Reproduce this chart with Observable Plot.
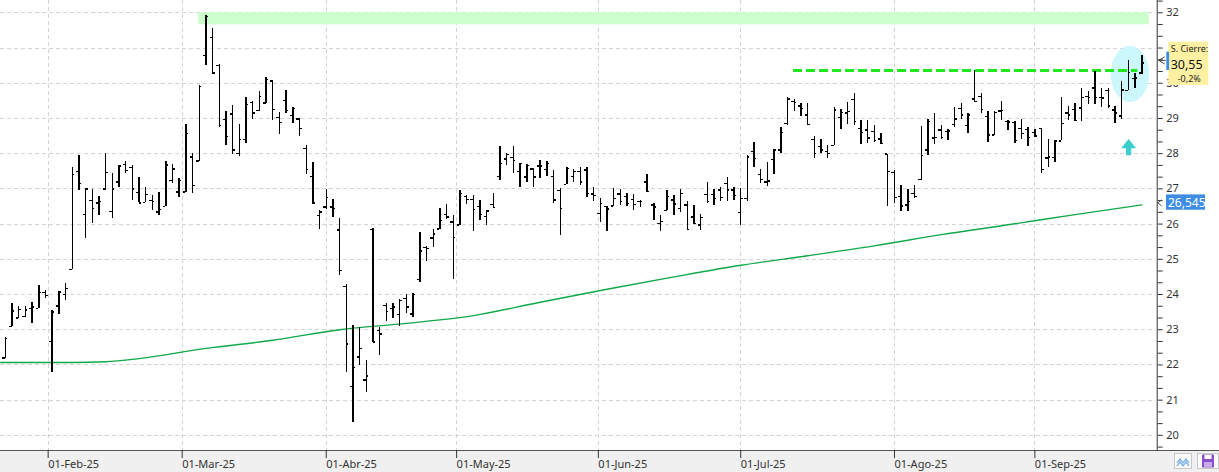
<!DOCTYPE html>
<html><head><meta charset="utf-8">
<script src="https://cdn.jsdelivr.net/npm/d3@7"></script>
<script src="https://cdn.jsdelivr.net/npm/@observablehq/plot@0.6"></script>
<style>
html,body{margin:0;padding:0;background:#fff;}
#chart{position:relative;width:1219px;height:472px;overflow:hidden;}
#chart svg [aria-label^="x-axis"] text{ text-anchor:start; }
.btn{position:absolute;top:453px;height:16px;background:#fbfbfb;border:1px solid #c8c8c8;box-sizing:border-box;}
</style></head><body>
<div id="chart"></div>
<script>
// ---- OHLC data (one bar per trading day, from 23-Jan-25 to 23-Sep-25) ----
const open = [22.2,23.1,23.33,23.37,23.6,23.6,24.05,22.67,23.67,24.0,
24.71,27.5,26.27,26.67,26.6,27.0,26.36,27.2,27.69,27.6,
26.9,26.62,26.67,26.34,26.5,27.23,26.91,26.91,27.9,27.79,
30.79,31.3,30.5,28.97,29.13,28.0,28.4,29.45,29.22,29.44,
30.06,29.03,29.51,29.08,28.98,28.14,27.36,26.25,26.49,26.49,
25.83,24.22,21.38,22.23,21.57,25.85,22.98,23.69,23.6,23.43,
23.88,23.45,24.43,25.34,25.6,25.86,26.27,26.06,25.97,26.79,
26.7,26.5,26.22,26.56,27.36,27.85,27.89,27.5,27.34,27.57,
27.65,27.55,27.36,26.96,27.13,27.36,27.49,27.54,26.85,26.3,
26.5,26.51,26.85,26.78,26.7,26.65,27.2,26.54,26.02,26.38,
26.68,26.45,26.54,26.2,25.97,26.84,26.84,26.97,27.16,26.97,
26.33,26.73,28.06,27.4,27.2,27.84,28.1,28.85,29.48,29.35,
29.1,28.41,28.2,28.06,28.24,29.02,29.15,29.54,28.72,28.67,
28.63,28.42,27.99,27.47,26.78,26.54,26.87,27.27,28.1,28.44,
28.67,28.63,28.82,29.29,28.8,29.55,29.62,29.05,28.53,29.21,
28.92,28.89,28.71,28.69,28.6,28.71,27.88,27.89,28.36,29.16,
29.25,29.3,29.62,29.86,29.6,29.8,29.24,29.07,29.8,30.14,
30.29];
const high = [22.78,23.74,23.67,23.67,23.76,24.26,24.12,23.56,24.09,24.31,
27.62,27.95,27.0,26.98,26.77,28.0,27.43,27.67,27.78,27.67,
27.32,27.05,26.82,26.9,27.78,27.7,27.29,28.82,28.0,29.94,
31.92,31.55,30.52,29.2,29.37,28.83,29.59,29.49,29.77,30.17,
30.08,29.18,29.8,29.3,28.99,28.24,27.75,26.39,26.99,26.7,
26.17,24.29,23.13,23.05,22.12,25.87,23.07,23.74,23.74,23.86,
23.99,24.02,25.75,25.36,25.86,26.43,26.57,26.25,26.96,26.82,
26.82,26.68,26.39,26.88,28.21,28.0,28.19,27.72,27.69,27.59,
27.8,27.78,27.53,27.0,27.61,27.54,27.61,27.61,27.03,26.73,
26.51,27.0,26.97,26.87,26.84,26.68,27.42,26.59,26.23,26.94,
26.81,26.99,26.64,26.54,26.26,27.18,26.99,27.05,27.32,27.05,
27.02,27.96,28.31,27.56,27.75,28.12,28.75,29.6,29.55,29.43,
29.43,28.5,28.39,28.22,29.32,29.26,29.46,29.72,28.94,28.93,
28.79,28.56,27.99,27.52,27.11,26.97,27.11,28.77,28.96,29.15,
28.79,28.69,29.32,29.43,29.15,30.36,29.72,29.19,29.21,29.48,
28.94,28.9,28.98,28.73,28.7,28.71,28.4,28.38,29.6,29.35,
29.43,29.86,29.76,30.33,29.86,29.86,29.33,30.05,30.65,30.29,
30.8];
const low = [22.17,23.1,23.32,23.35,23.18,23.6,23.9,21.79,23.43,23.84,
24.71,26.96,25.6,26.03,26.25,26.96,26.17,27.05,27.43,26.68,
26.6,26.6,26.39,26.25,26.49,27.15,26.75,26.91,26.88,27.79,
30.49,30.27,28.73,28.24,27.98,27.93,28.28,28.97,29.2,29.42,
28.95,28.55,29.15,28.87,28.5,27.4,26.6,25.86,26.42,26.2,
24.53,21.79,20.36,21.97,21.21,22.63,22.27,23.24,23.31,23.09,
23.47,23.34,24.35,24.94,25.34,25.86,26.13,24.44,25.97,26.55,
25.78,26.1,25.95,26.43,27.24,27.65,27.45,27.05,27.18,27.05,
27.29,27.34,26.58,25.68,27.13,27.18,27.11,26.76,26.64,26.04,
25.78,26.49,26.54,26.51,26.38,26.46,26.89,26.09,25.78,26.38,
26.24,26.32,25.83,26.0,25.83,26.59,26.54,26.64,26.64,26.66,
25.95,26.64,27.61,27.16,27.06,27.42,28.01,28.8,29.19,29.05,
28.8,27.87,28.01,27.87,28.22,28.7,28.84,28.8,28.27,28.29,
28.31,28.27,26.49,26.59,26.37,26.35,26.73,27.25,27.94,28.27,
28.41,28.37,28.75,28.98,28.56,29.46,29.15,28.31,28.51,28.95,
28.66,28.3,28.41,28.2,28.45,27.43,27.6,27.74,28.36,28.95,
28.9,28.9,29.41,29.41,29.3,29.29,28.86,28.97,29.79,29.86,
30.26];
const close = [22.75,23.53,23.58,23.56,23.65,24.06,23.97,23.5,24.07,24.17,
27.4,27.15,27.0,26.44,26.64,27.46,27.0,27.65,27.52,27.0,
26.6,26.84,26.65,26.42,27.68,27.56,27.23,28.57,27.1,29.9,
31.9,30.29,28.8,28.49,28.1,28.4,29.4,29.15,29.63,30.1,
29.25,28.88,29.23,29.28,28.71,27.55,26.6,26.34,26.75,26.44,
24.69,22.59,21.93,22.47,21.69,22.65,22.88,23.52,23.64,23.83,
23.64,24.0,25.24,25.3,25.72,26.11,26.2,25.62,26.87,26.7,
26.41,26.28,26.37,26.47,27.72,27.98,27.81,27.72,27.67,27.34,
27.65,27.72,26.68,26.45,27.58,27.49,27.2,26.87,26.81,26.59,
26.43,26.73,26.64,26.59,26.56,26.64,26.92,26.49,26.07,26.78,
26.57,26.87,25.85,26.02,26.18,26.64,26.73,26.75,26.97,26.82,
26.73,27.91,27.87,27.27,27.22,28.1,28.6,29.55,29.45,29.29,
28.82,28.01,28.1,28.0,29.24,29.17,29.2,28.91,28.6,28.44,
28.37,28.29,27.49,26.76,26.51,26.65,26.78,27.94,28.91,28.46,
28.46,28.64,28.98,29.1,29.1,29.48,29.26,28.53,29.17,29.22,
28.9,28.38,28.57,28.46,28.5,27.55,27.9,28.36,28.86,29.1,
28.95,29.6,29.6,29.6,29.58,29.35,29.16,29.81,30.31,30.15,
30.58];

// ---- 200-session moving average, read at a few bars ----
const maBar = [-0.7,10,15,20,30,40,50,60,70,80,90,100,110,120,130,140,150,160,170];
const maVal = [22.07,22.07,22.09,22.18,22.47,22.7,23.0,23.18,23.4,23.78,24.15,24.5,24.83,25.1,25.38,25.7,25.98,26.27,26.545];

// ---- axis ticks ----
const monthTickPos = [6.4,26.45,48,67.5,88.7,110,133,154];
const monthLabels = ["01-Feb-25","01-Mar-25","01-Abr-25","01-May-25","01-Jun-25","01-Jul-25","01-Ago-25","01-Sep-25"];
const yLabels = [20,21,22,23,24,25,26,27,28,29,30,31,32];
const yLabelsHidden = [31]; // covered by the close tag in the original

// ---- annotations ----
const zoneBars = [28.9, 171.1];      // light-green resistance band
const zoneVals = [31.66, 32.0];
const levelBars = [117.9, 169.4];    // dashed resistance line
const levelVal = 30.36;
const ellipseC = [168.3, 30.25];     // cyan ellipse centre (bar, value)
const ellipseR = [2.87, 0.8];        // radii (bars, value units)
const arrowBar = 168.1;
const arrowVals = [27.94, 28.14, 28.4]; // base, head base, tip
const lastCloseLabel = {value: 30.55, title: "S. Cierre:", text: "30,55", change: "-0,2%"};
const maLabel = {value: 26.545, text: "26,545"};

const bars = close.map((c, i) => ({i, o: open[i], h: high[i], l: low[i], c}));
const maData = maBar.map((b, k) => ({b, v: maVal[k]}));
const minorTicks = d3.range(59, 98).map(k => k / 3);
const isInt = d => Math.abs(d - Math.round(d)) < 1e-6;
const yFmt = d => (isInt(d) && !yLabelsHidden.includes(Math.round(d))) ? String(Math.round(d)) : "";

function ellipseMark(index, scales) {
  const cx = scales.x(ellipseC[0]), cy = scales.y(ellipseC[1]);
  const rx = Math.abs(scales.x(ellipseC[0] + ellipseR[0]) - cx);
  const ry = Math.abs(scales.y(ellipseC[1] + ellipseR[1]) - cy);
  const e = document.createElementNS("http://www.w3.org/2000/svg", "ellipse");
  e.setAttribute("cx", cx); e.setAttribute("cy", cy);
  e.setAttribute("rx", rx); e.setAttribute("ry", ry);
  e.setAttribute("fill", "#ccf8fd");
  return e;
}

const FONT = "'Segoe UI','Noto Sans',sans-serif";
const chart = Plot.plot({
  width: 1219, height: 472,
  marginLeft: 0, marginRight: 62.3, marginTop: 0, marginBottom: 22,
  style: {fontFamily: FONT, fontSize: "11px", color: "#333",
          background: "linear-gradient(to bottom,#fff 0,#fff 450px,#555 450px,#555 451px,#f0f0f0 451px)"},
  x: {domain: [-0.73, 172.3], ticks: monthTickPos, tickFormat: d => monthLabels[monthTickPos.indexOf(d)],
      tickSize: 8, tickPadding: 1.5, label: null},
  y: {domain: [19.57, 32.35], axis: "right", ticks: minorTicks, tickFormat: yFmt,
      tickSize: 5, tickPadding: 4, line: true, label: null},
  marks: [
    Plot.ruleY(yLabels, {stroke: "#d4d4d4", strokeDasharray: "4,3", shapeRendering: "crispEdges"}),
    Plot.ruleX(monthTickPos, {stroke: "#d4d4d4", strokeDasharray: "4,3", shapeRendering: "crispEdges"}),
    Plot.rect([0], {x1: zoneBars[0], x2: zoneBars[1], y1: zoneVals[0], y2: zoneVals[1], fill: "#ccffcc"}),
    ellipseMark,
    Plot.line(maData, {x: "b", y: "v", stroke: "#0fa84a", strokeWidth: 1.4, curve: "monotone-x"}),
    Plot.ruleY([levelVal], {x1: levelBars[0], x2: levelBars[1], stroke: "#1fe81f", strokeWidth: 3, strokeDasharray: "9,4"}),
    Plot.ruleX(bars, {x: "i", y1: "l", y2: "h", stroke: "#000", strokeWidth: 1.4, shapeRendering: "crispEdges"}),
    Plot.ruleY(bars, {y: "o", x1: d => d.i - 0.38, x2: "i", stroke: "#000", strokeWidth: 1.4, shapeRendering: "crispEdges"}),
    Plot.ruleY(bars, {y: "c", x1: "i", x2: d => d.i + 0.38, stroke: "#000", strokeWidth: 1.4, shapeRendering: "crispEdges"})
  ]
});
document.getElementById("chart").appendChild(chart);

// ---- overlays (arrow, right-side value tags) ----
const xs = chart.scale("x"), ys = chart.scale("y");
const svg = d3.select(chart);
const ax = xs.apply(arrowBar), aBase = ys.apply(arrowVals[0]), aHead = ys.apply(arrowVals[1]), aTip = ys.apply(arrowVals[2]);
svg.append("path")
  .attr("d", `M${ax},${aTip}L${ax+7.5},${aHead}L${ax+2.6},${aHead}L${ax+2.6},${aBase}L${ax-2.6},${aBase}L${ax-2.6},${aHead}L${ax-7.5},${aHead}Z`)
  .attr("fill", "#3ccdcd");

const x0 = 1219 - 62.3;
const g = svg.append("g").attr("font-family", FONT).attr("text-anchor", "start");
// last close tag
const yc = ys.apply(lastCloseLabel.value);
g.append("rect").attr("x", x0 + 11.6).attr("y", yc - 21.7).attr("width", 40).attr("height", 43.3).attr("fill", "#fff0a2");
g.append("rect").attr("x", x0 + 9.6).attr("y", yc - 11.7).attr("width", 2.8).attr("height", 18.3).attr("fill", "#3a8ee6");
g.append("text").attr("x", x0 + 14).attr("y", yc - 11.5).attr("font-size", 9).attr("fill", "#222").text(lastCloseLabel.title);
g.append("text").attr("x", x0 + 14).attr("y", yc + 6).attr("font-size", 12.5).attr("fill", "#111").text(lastCloseLabel.text);
g.append("text").attr("x", x0 + 21).attr("y", yc + 18.5).attr("font-size", 9).attr("fill", "#222").text(lastCloseLabel.change);
g.append("path").attr("d", `M${x0+8},${yc-6.5}L${x0+2},${yc-3}L${x0+8},${yc+0.5}M${x0+2},${yc-3}H${x0+9}`).attr("stroke", "#444").attr("fill", "none").attr("stroke-width", 1);
// MA tag
const ym = ys.apply(maLabel.value);
g.append("rect").attr("x", x0 + 9.3).attr("y", ym - 10).attr("width", 39).attr("height", 15.3).attr("fill", "#3d8de2");
g.append("text").attr("x", x0 + 11.3).attr("y", ym + 2.3).attr("font-size", 12).attr("fill", "#fff").text(maLabel.text);
g.append("path").attr("d", `M${x0+5},${ym-4.5}L${x0+1},${ym-1.5}L${x0+5},${ym+1.5}`).attr("stroke", "#555").attr("fill", "none").attr("stroke-width", 1);

// ---- bottom-right buttons ----
const host = document.getElementById("chart");
const b1 = document.createElement("div"); b1.className = "btn";
b1.style.left = "1174px"; b1.style.width = "18px";
b1.innerHTML = '<svg width="16" height="14"><path d="M2,9L5,5L8,9L11,5L14,9M2,12L5,8L8,12L11,8L14,12" stroke="#7fb2e5" fill="none" stroke-width="1.3"/></svg>';
const b2 = document.createElement("div"); b2.className = "btn";
b2.style.left = "1197px"; b2.style.width = "22px";
b2.innerHTML = '<svg width="20" height="14"><rect x="4" y="0.5" width="12" height="13" fill="#8a4fc8"/><rect x="6.5" y="1" width="7" height="4" fill="#fff"/><rect x="6" y="8" width="8" height="5" fill="#c9a9ea"/></svg>';
host.appendChild(b1); host.appendChild(b2);
</script></body></html>
